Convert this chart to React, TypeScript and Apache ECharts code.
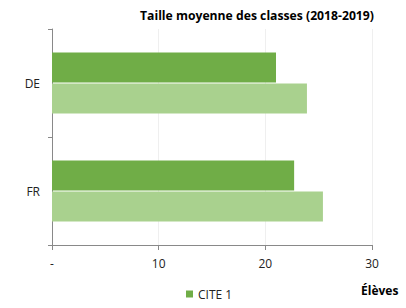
import React, { useEffect, useRef } from "react";
import * as echarts from "echarts";

const categories = ["DE", "FR"];
const cite1 = [21.0, 22.7];
const cite2 = [23.9, 25.4];
const xTicks = [0, 10, 20, 30];

export default function App() {
  const ref = useRef<HTMLDivElement>(null);
  useEffect(() => {
    const chart = echarts.init(ref.current!, null, { renderer: "svg" });
    chart.setOption({
      animation: false,
      textStyle: { fontFamily: "Open Sans" },
      title: {
        text: "Taille moyenne des classes (2018-2019)",
        left: 135,
        top: 4,
        textStyle: { fontSize: 12.2, fontWeight: "bold", color: "#000", fontFamily: "Open Sans" },
      },
      legend: {
        data: ["CITE 1"],
        left: 181,
        top: 283,
        itemWidth: 7,
        itemHeight: 7,
        itemGap: 4,
        icon: "rect",
        textStyle: { fontSize: 12, color: "#222" },
      },
      graphic: [
        {
          type: "text",
          left: 361,
          top: 284,
          style: { text: "Élèves", font: "bold 12px 'Open Sans'", fill: "#000" },
        },
      ],
      grid: { left: 52, right: 34, top: 29, bottom: 63, containLabel: false },
      xAxis: {
        type: "value",
        min: xTicks[0],
        max: xTicks[xTicks.length - 1],
        interval: 10,
        axisLine: { show: true, lineStyle: { color: "#898989" } },
        axisTick: { show: true, length: 5, lineStyle: { color: "#898989" } },
        splitLine: { show: true, lineStyle: { color: "#EFEFEF" } },
        axisLabel: {
          margin: 12,
          fontSize: 12,
          color: "#222",
          formatter: (v: number) => (v === 0 ? "-" : String(v)),
        },
      },
      yAxis: {
        type: "category",
        data: categories,
        inverse: true,
        axisLine: { show: true, lineStyle: { color: "#898989" } },
        axisTick: { show: true, length: 4, lineStyle: { color: "#898989" } },
        axisLabel: { fontSize: 12, color: "#222", margin: 12 },
      },
      series: [
        {
          name: "CITE 1",
          type: "bar",
          data: cite1,
          barWidth: 30,
          barGap: "3%",
          itemStyle: { color: "#70AD47" },
        },
        {
          name: "CITE 2",
          type: "bar",
          data: cite2,
          barWidth: 30,
          barGap: "3%",
          itemStyle: { color: "#A9D18E" },
        },
      ],
    });
    return () => chart.dispose();
  }, []);
  return <div ref={ref} style={{ width: 406, height: 308, position: "absolute", left: 0, top: 0 }} />;
}
